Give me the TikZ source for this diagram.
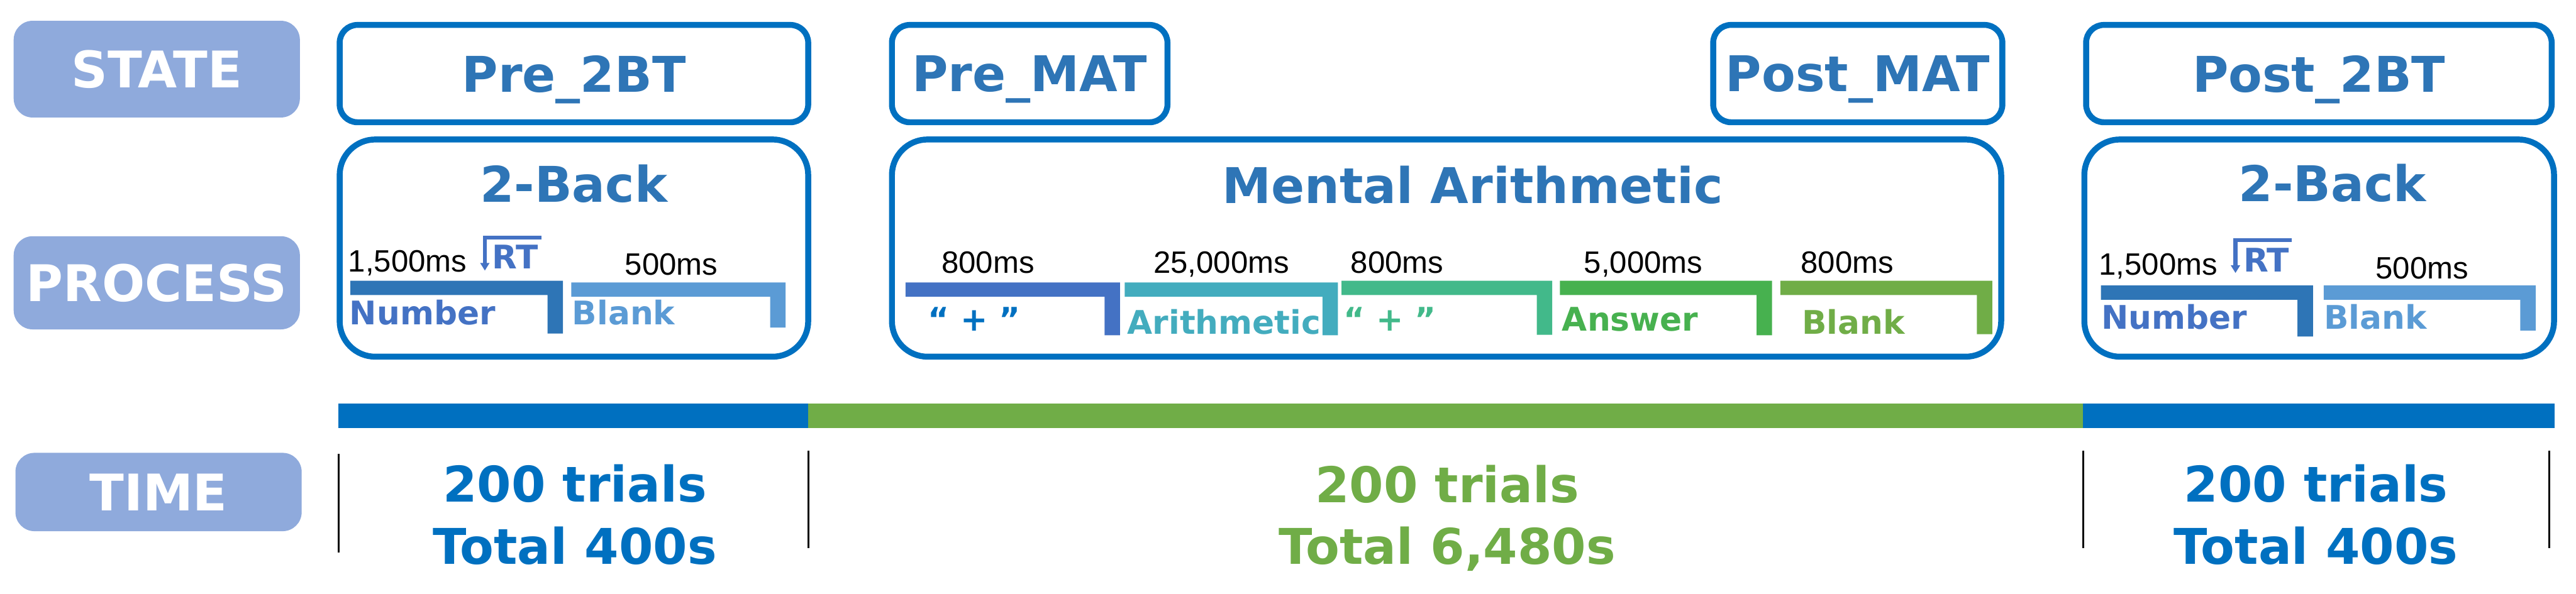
\documentclass[tikz,border=0pt]{standalone}
\usepackage{fontspec}
\setmainfont{DejaVu Sans}
\newfontfamily\durfont{Liberation Sans}
\usepackage{xcolor}
\usepackage{tikz}
\usetikzlibrary{arrows.meta}
\definecolor{labfill}{HTML}{8FAADC}
\definecolor{boxblue}{HTML}{0070C0}
\definecolor{titleblue}{HTML}{2E75B6}
\definecolor{numblue}{HTML}{4472C4}
\definecolor{blankblue}{HTML}{5B9BD5}
\definecolor{tealbar}{HTML}{43ACBE}
\definecolor{seagreen}{HTML}{42B98A}
\definecolor{ansgreen}{HTML}{47B14F}
\definecolor{olive}{HTML}{70AD47}
\tikzset{
  sidelab/.style  = {fill=labfill, rounded corners=0.32cm, minimum width=4.82cm,
                     text=white, text depth=0pt,
                     font=\fontsize{24.2}{29}\selectfont\bfseries},
  statebox/.style = {draw=boxblue, line width=0.1cm, rounded corners=0.3cm,
                     minimum height=1.64cm, text=titleblue, text depth=0pt,
                     font=\fontsize{23.6}{28}\selectfont\bfseries},
  procbox/.style  = {draw=boxblue, line width=0.1cm, rounded corners=0.6cm,
                     minimum height=3.66cm},
  titlelab/.style = {anchor=base, inner sep=0pt, text=titleblue,
                     font=\fontsize{23.6}{28}\selectfont\bfseries},
  durlab/.style   = {anchor=base west, inner sep=0pt,
                     font=\durfont\fontsize{14.8}{18}\selectfont},
  barlab/.style   = {anchor=base west, inner sep=0pt,
                     font=\fontsize{15.6}{19}\selectfont\bfseries},
  timelab/.style  = {anchor=base, inner sep=0pt,
                     font=\fontsize{23.6}{28}\selectfont\bfseries},
  tickline/.style = {line width=0.03cm, black},
  rtarrow/.style  = {numblue, line width=0.07cm,
                     -{Triangle[length=0.13cm,width=0.15cm]}},
}
% step bar: left x, right x, top y, bottom y, colour
\newcommand{\stepbar}[5]{%
  \fill[#5] (#1,#3) -- (#2,#3) -- (#2,#4) -- ({#2-0.26},#4)
    -- ({#2-0.26},{#3-0.24}) -- (#1,{#3-0.24}) -- cycle;}
\begin{document}
\begin{tikzpicture}
\useasboundingbox (0,0) rectangle (43.38,-10);
% row labels
\node[sidelab, minimum height=1.63cm] (lstate)   at (2.64,-1.165) {STATE};
\node[sidelab, minimum height=1.57cm] (lprocess) at (2.64,-4.765) {PROCESS};
\node[sidelab, minimum height=1.32cm] (ltime)    at (2.67,-8.29)  {TIME};
% states
\node[statebox, minimum width=7.89cm] (pre2bt)  at (9.665,-1.24) {Pre\_2BT};
\node[statebox, minimum width=4.64cm] (premat)  at (17.34,-1.24) {Pre\_MAT};
\node[statebox, minimum width=4.87cm] (postmat) at (31.285,-1.24) {Post\_MAT};
\node[statebox, minimum width=7.84cm] (post2bt) at (39.05,-1.24) {Post\_2BT};
% processes
\node[procbox, minimum width=7.89cm]  (backL)  at (9.665,-4.18) {};
\node[procbox, minimum width=18.68cm] (mental) at (24.36,-4.18) {};
\node[procbox, minimum width=7.91cm]  (backR)  at (39.055,-4.18) {};
\node[titlelab] (tbackL)  at (9.66,-3.41)  {2-Back};
\node[titlelab] (tmental) at (24.80,-3.43) {Mental Arithmetic};
\node[titlelab] (tbackR)  at (39.28,-3.39) {2-Back};

% 2-Back, before
\stepbar{5.90}{9.48}{-4.73}{-5.62}{titleblue}
\stepbar{9.62}{13.23}{-4.76}{-5.52}{blankblue}
\node[durlab] (dnumL)   at (5.86,-4.58)  {1,500ms};
\node[durlab] (dblankL) at (10.52,-4.63) {500ms};
\node[barlab, text=numblue] (rtL) at (8.28,-4.53) {RT};
\coordinate (rtLa) at (9.12,-4.005);
\coordinate (rtLb) at (8.165,-4.56);
\draw[rtarrow] (rtLa) -| (rtLb);
\node[barlab, text=numblue]   (numL)   at (5.88,-5.47) {Number};
\node[barlab, text=blankblue] (blankL) at (9.63,-5.47) {Blank};

% mental arithmetic
\stepbar{15.25}{18.86}{-4.76}{-5.65}{numblue}
\stepbar{18.94}{22.53}{-4.76}{-5.65}{tealbar}
\stepbar{22.59}{26.14}{-4.73}{-5.64}{seagreen}
\stepbar{26.27}{29.84}{-4.73}{-5.65}{ansgreen}
\stepbar{29.98}{33.55}{-4.73}{-5.63}{olive}
\node[durlab] (dfix1)  at (15.85,-4.60) {800ms};
\node[durlab] (darith) at (19.42,-4.60) {25,000ms};
\node[durlab] (dfix2)  at (22.74,-4.60) {800ms};
\node[durlab] (dans)   at (26.67,-4.60) {5,000ms};
\node[durlab] (dblank) at (30.32,-4.60) {800ms};
\node[barlab, text=boxblue]  (fix1)  at (15.62,-5.58) {“ + ”};
\node[barlab, text=tealbar]  (arith) at (18.98,-5.63) {Arithmetic};
\node[barlab, text=seagreen] (fix2)  at (22.62,-5.58) {“ + ”};
\node[barlab, text=ansgreen] (ans)   at (26.30,-5.58) {Answer};
\node[barlab, text=olive]    (blank) at (30.34,-5.63) {Blank};

% 2-Back, after
\stepbar{35.38}{38.95}{-4.81}{-5.67}{titleblue}
\stepbar{39.13}{42.70}{-4.81}{-5.57}{blankblue}
\node[durlab] (dnumR)   at (35.34,-4.63) {1,500ms};
\node[durlab] (dblankR) at (40.00,-4.70) {500ms};
\node[barlab, text=numblue] (rtR) at (37.77,-4.58) {RT};
\coordinate (rtRa) at (38.59,-4.045);
\coordinate (rtRb) at (37.645,-4.60);
\draw[rtarrow] (rtRa) -| (rtRb);
\node[barlab, text=numblue]   (numR)   at (35.38,-5.54) {Number};
\node[barlab, text=blankblue] (blankR) at (39.13,-5.54) {Blank};

% time line
\fill[boxblue] (5.70,-6.80) rectangle (13.61,-7.21);
\fill[olive]   (13.61,-6.80) rectangle (35.08,-7.21);
\fill[boxblue] (35.08,-6.80) rectangle (43.02,-7.21);
\draw[tickline] (5.70,-7.65) -- (5.70,-9.31);
\foreach \x in {13.61,35.08,42.93}
  \draw[tickline] (\x,-7.59) -- (\x,-9.24);
\node[timelab, text=boxblue] (trialsL) at (9.68,-8.46)  {200 trials};
\node[timelab, text=boxblue] (totalL)  at (9.68,-9.50)  {Total 400s};
\node[timelab, text=olive]   (trialsM) at (24.37,-8.47) {200 trials};
\node[timelab, text=olive]   (totalM)  at (24.37,-9.51) {Total 6,480s};
\node[timelab, text=boxblue] (trialsR) at (39.00,-8.46) {200 trials};
\node[timelab, text=boxblue] (totalR)  at (39.00,-9.50) {Total 400s};
\end{tikzpicture}
\end{document}
